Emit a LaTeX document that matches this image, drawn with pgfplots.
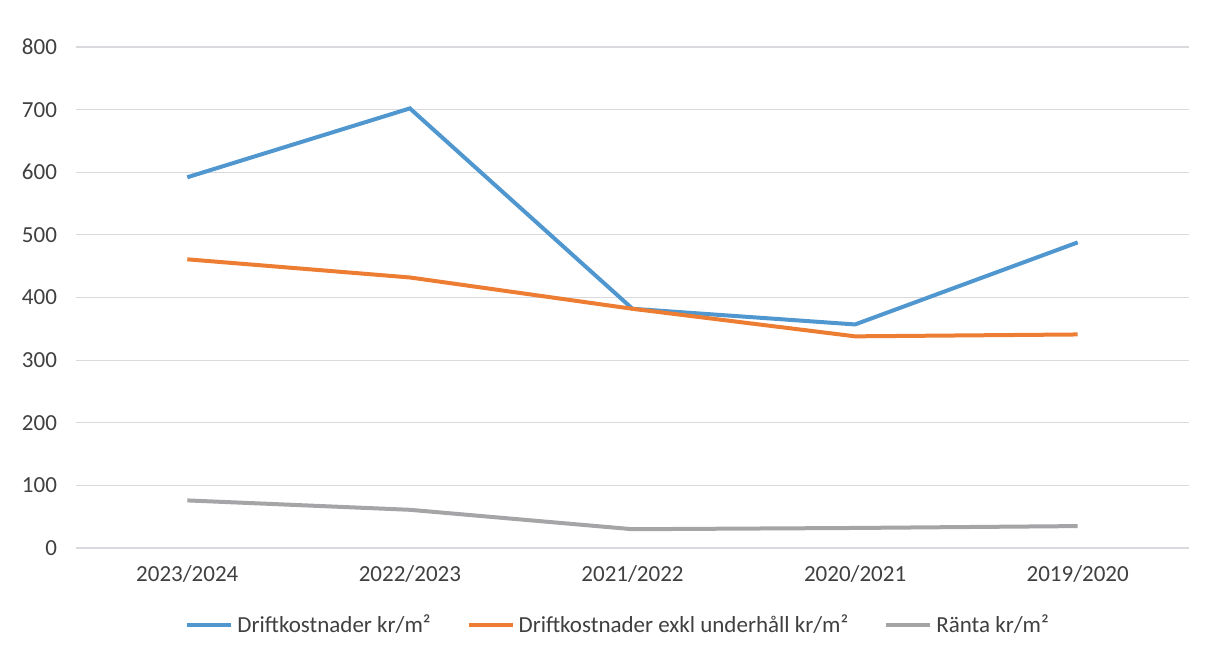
\documentclass[border=0pt]{standalone}
\usepackage{fontspec}
\setmainfont{Carlito}
\usepackage{pgfplots}
\pgfplotsset{compat=1.18}
\definecolor{cblue}{HTML}{4F97CE}
\definecolor{corange}{HTML}{EC7D32}
\definecolor{cgray}{HTML}{A5A5A8}
\definecolor{cgrid}{HTML}{D9D9DE}
\definecolor{ctext}{HTML}{404040}
\begin{document}
\begin{tikzpicture}
\begin{axis}[
  scale only axis,
  width=556.5pt, height=250.5pt,
  xmin=-0.5, xmax=4.5, ymin=0, ymax=800,
  xtick={0,1,2,3,4},
  xticklabels={2023/2024,2022/2023,2021/2022,2020/2021,2019/2020},
  ytick={0,100,...,800},
  ymajorgrids, grid style={cgrid, line width=0.6pt},
  axis line style={draw=none},
  major tick length=0pt,
  tick label style={font=\fontsize{11.5}{13}\selectfont, text=ctext},
  /pgf/number format/assume math mode=true,
  yticklabel style={xshift=-6pt},
  xticklabel style={yshift=-5pt},
  legend columns=3,
  legend style={draw=none, at={(0.488,-0.154)}, anchor=center,
    font=\fontsize{11.5}{13}\selectfont, text=ctext,
    /tikz/every even column/.append style={column sep=16pt}},
  legend image code/.code={\draw[#1, line width=2pt] (0pt,0pt) -- (22pt,0pt);},
]
\addplot[cblue, line width=2pt] coordinates {(0,592) (1,702) (2,382) (3,357) (4,488)};
\addlegendentry{Driftkostnader kr/m²}
\addplot[corange, line width=2pt] coordinates {(0,461) (1,432) (2,382) (3,338) (4,341)};
\addlegendentry{Driftkostnader exkl underhåll kr/m²}
\addplot[cgray, line width=2pt] coordinates {(0,76) (1,61) (2,30) (3,32) (4,35)};
\addlegendentry{Ränta kr/m²}
\end{axis}
\path (-38pt,-53pt) rectangle (566.5pt,274pt);
\end{tikzpicture}
\end{document}
